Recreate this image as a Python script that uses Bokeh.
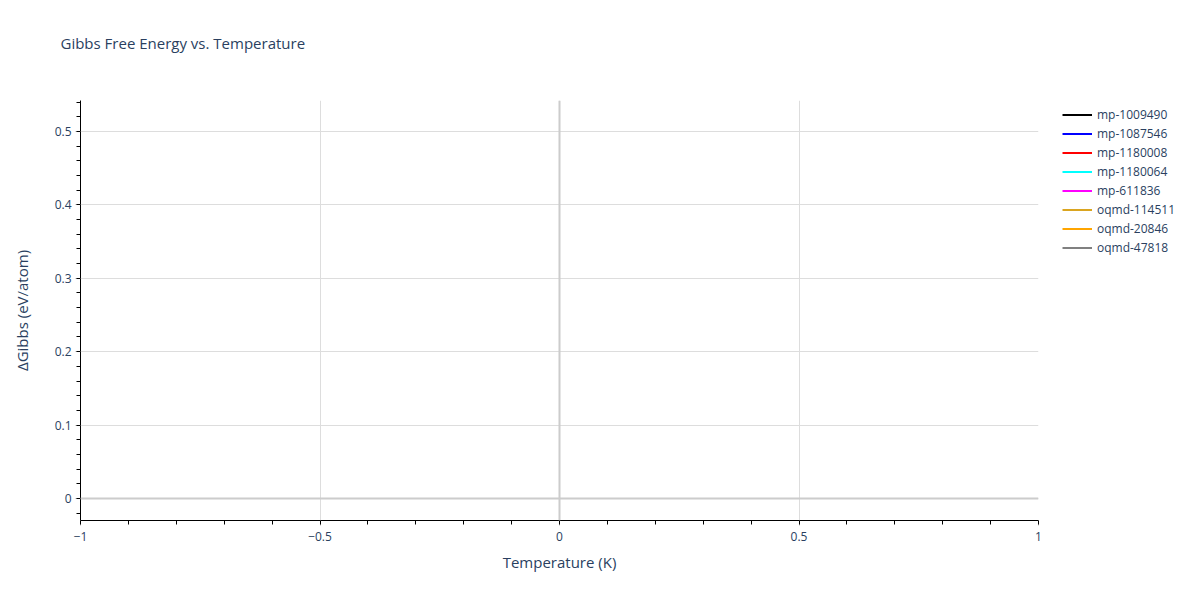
from bokeh.plotting import figure
from bokeh.layouts import row
from bokeh.models import Range1d, FixedTicker, Span, Legend, LegendItem, Title
from bokeh.embed import file_html
from bokeh.resources import INLINE

# series (each one only has a single point, so nothing shows in the frame)
series_names = ["mp-1009490", "mp-1087546", "mp-1180008", "mp-1180064",
                "mp-611836", "oqmd-114511", "oqmd-20846", "oqmd-47818"]
series_colors = ["black", "blue", "red", "cyan", "magenta",
                 "goldenrod", "orange", "grey"]
temperatures = [0]
gibbs = [0.0]

x_ticks = [-1, -0.5, 0, 0.5, 1]
x_labels = ["−1", "−0.5", "0", "0.5", "1"]
y_ticks = [0, 0.1, 0.2, 0.3, 0.4, 0.5]
y_labels = ["0", "0.1", "0.2", "0.3", "0.4", "0.5"]

FONT = "Open Sans"
TXT = "#2a3f5f"

p = figure(width=1054, height=584, output_backend="svg", toolbar_location=None,
           x_range=Range1d(-1, 1), y_range=Range1d(-0.030, 0.5422),
           title=None,
           x_axis_label="Temperature (K)", y_axis_label="ΔGibbs (eV/atom)",
           min_border_left=80, min_border_right=16,
           min_border_top=100, min_border_bottom=64)

p.outline_line_color = None
p.background_fill_color = "white"

# spacer title next to the frame first, the real title is stacked above it
p.add_layout(Title(text=" ", text_font_size="1px", standoff=40), "above")
p.add_layout(Title(text="Gibbs Free Energy vs. Temperature", text_font=FONT,
                   text_font_size="15px", text_font_style="normal",
                   text_color=TXT, align="left", offset=-20, standoff=10), "above")

# ticks
p.xaxis.ticker = FixedTicker(ticks=x_ticks,
                             minor_ticks=[round(-1 + 0.1 * i, 2) for i in range(21)])
p.yaxis.ticker = FixedTicker(ticks=y_ticks,
                             minor_ticks=[round(-0.02 + 0.02 * i, 2) for i in range(29)])
p.xaxis.major_label_overrides = dict(zip(x_ticks, x_labels))
p.yaxis.major_label_overrides = dict(zip(y_ticks, y_labels))

for ax in (p.xaxis, p.yaxis):
    ax.axis_line_color = "black"
    ax.axis_line_width = 1
    ax.major_tick_line_color = "#bbbbbb"
    ax.major_tick_out = 5
    ax.major_tick_in = 0
    ax.minor_tick_line_color = "black"
    ax.minor_tick_out = 4
    ax.minor_tick_in = 0
    ax.major_label_text_font = FONT
    ax.major_label_text_font_size = "12px"
    ax.major_label_text_color = TXT
    ax.axis_label_text_font = FONT
    ax.axis_label_text_font_size = "15px"
    ax.axis_label_text_font_style = "normal"
    ax.axis_label_text_color = TXT

p.xaxis.major_label_standoff = 6
p.xaxis.axis_label_standoff = 8
p.yaxis.major_label_standoff = 4
p.yaxis.axis_label_standoff = 20

p.xgrid.grid_line_color = "#dddddd"
p.ygrid.grid_line_color = "#dddddd"

# zero lines
p.add_layout(Span(location=0, dimension="height", line_color="#cccccc", line_width=2))
p.add_layout(Span(location=0, dimension="width", line_color="#cccccc", line_width=2))

for name, color in zip(series_names, series_colors):
    p.line(temperatures, gibbs, line_color=color, line_width=2)

# legend lives in its own small figure to the right of the chart
lf = figure(width=130, height=584, output_backend="svg", toolbar_location=None,
            x_range=Range1d(-1, 1), y_range=Range1d(-0.030, 0.5422),
            min_border=0)
lf.axis.visible = False
lf.grid.visible = False
lf.outline_line_color = None

items = []
for name, color in zip(series_names, series_colors):
    r = lf.line(temperatures, gibbs, line_color=color, line_width=2)
    items.append(LegendItem(label=name, renderers=[r]))

legend = Legend(items=items, location=(8, 263))
legend.padding = 0
legend.margin = 0
legend.spacing = 0
legend.border_line_color = None
legend.background_fill_alpha = 0
legend.glyph_width = 30
legend.glyph_height = 19
legend.label_height = 19
legend.label_standoff = 5
legend.label_text_font = FONT
legend.label_text_font_size = "12px"
legend.label_text_color = TXT
lf.add_layout(legend)

layout = row(p, lf)
open("out.html", "w").write(file_html(layout, INLINE))
